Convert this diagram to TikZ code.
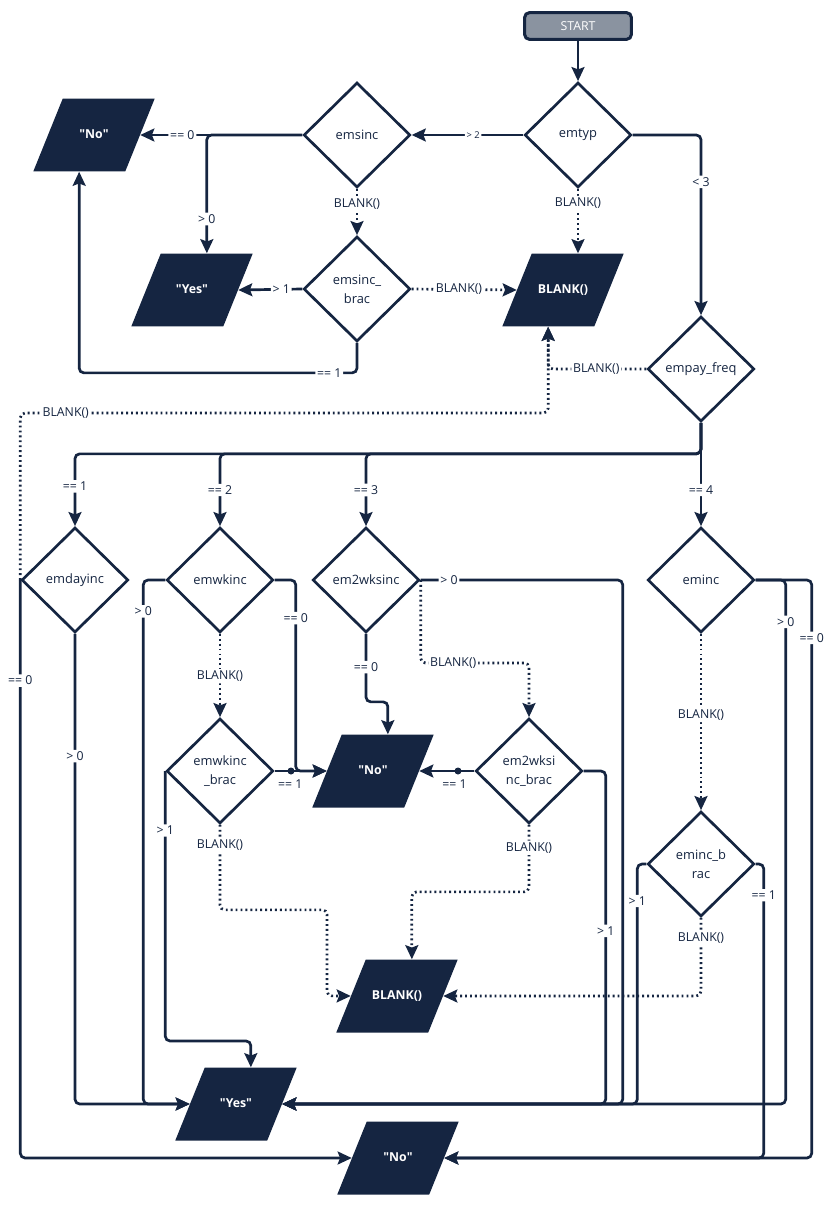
\documentclass[tikz,border=0pt]{standalone}
\usepackage{fontspec}
\setmainfont{Open Sans}
\usetikzlibrary{shapes.geometric}
\usetikzlibrary{arrows.meta}

\definecolor{navy}{HTML}{152541}
\definecolor{startgray}{HTML}{8A93A0}

\begin{document}
\begin{tikzpicture}[x=0.03cm, y=-0.03cm,
  startbox/.style={rectangle, rounded corners=4pt, draw=navy, line width=2.6pt, fill=startgray, text=white,
    minimum width=3.2cm, minimum height=0.8cm, font=\fontsize{10.5}{12}\selectfont},
  decision/.style={diamond, draw=navy, line width=2.3pt, fill=white, text=navy, align=center, inner sep=0pt,
    minimum width=3.2cm, minimum height=3.15cm, font=\fontsize{11}{16}\selectfont},
  io/.style={trapezium, trapezium left angle=68, trapezium right angle=112,
    fill=navy, text=white, minimum width=0pt, minimum height=0pt,
    text width=1.874cm, align=center, text height=8pt, text depth=2.5pt, inner xsep=0pt, inner ysep=25.9pt,
    font=\bfseries\fontsize{10.5}{12}\selectfont},
  flow/.style={draw=navy, line width=2.3pt, rounded corners=4pt, -{Stealth[length=12pt, width=11pt, inset=2pt]}},
  blankflow/.style={flow, dash pattern=on 1.6pt off 2.6pt},
  cond/.style={fill=white, text=navy, inner sep=1.5pt, font=\fontsize{10.5}{12}\selectfont},
  undercond/.style={cond, fill=none, below=5pt}]
\useasboundingbox (0,0) rectangle (827,1207);

% top part
\node[startbox] (start) at (578,26) {START};
\node[decision] (emtyp) at (578,135) {emtyp};
\node[decision] (emsinc) at (357,135) {emsinc};
\node[decision] (emsincbrac) at (357,289) {emsinc\_\\brac};
\node[decision] (empayfreq) at (701,369) {empay\_freq};
\node[io] (no1) at (94,135) {\textquotedbl No\textquotedbl};
\node[io] (yes1) at (192,290) {\textquotedbl Yes\textquotedbl};
\node[io] (blank1) at (563,290) {BLANK()};

% pay frequency branches
\node[decision] (emdayinc) at (75,580) {emdayinc};
\node[decision] (emwkinc) at (220,580) {emwkinc};
\node[decision] (emtwowksinc) at (366,580) {em2wksinc};
\node[decision] (eminc) at (701,580) {eminc};
\node[decision] (emwkincbrac) at (220,771) {emwkinc\\\_brac};
\node[decision] (emtwowksincbrac) at (529,771) {em2wksi\\nc\_brac};
\node[decision] (emincbrac) at (701,864) {eminc\_b\\rac};
\node[io] (no2) at (373,771) {\textquotedbl No\textquotedbl};
\node[io] (blank2) at (397,996) {BLANK()};
\node[io] (yes2) at (236,1104) {\textquotedbl Yes\textquotedbl};
\node[io] (no3) at (398,1158) {\textquotedbl No\textquotedbl};

\draw[flow] (start.south) -- (emtyp.north);
\draw[flow] (emtyp.west) -- node[cond, pos=0.45, font=\fontsize{8}{10}\selectfont] {> 2} (emsinc.east);
\draw[blankflow] (emtyp.south) -- node[cond, pos=0.22] {BLANK()} (emtyp.south |- blank1.top side);
\draw[flow] (emtyp.east) -| node[cond, pos=0.63] {< 3} (empayfreq.north);

\draw[flow] (emsinc.west) -- node[cond, pos=0.74] {== 0} (no1.right side);
\draw[flow] (emsinc.west) -| node[cond, pos=0.855] {> 0} (yes1.top side);
\draw[blankflow] (emsinc.south) -- node[cond, pos=0.33] {BLANK()} (emsincbrac.north);
\draw[flow] (emsincbrac.west) -- node[cond, pos=0.33] {> 1} (yes1.right side);
\draw[blankflow] (emsincbrac.east) -- node[cond, pos=0.45] {BLANK()} (blank1.left side);
\draw[flow] (emsincbrac.south) -- ++(0,30) -| node[cond, pos=0.05] {== 1} (no1.bottom side);

\draw[blankflow] (empayfreq.west) -| node[cond, pos=0.255] {BLANK()} (blank1.bottom side);
\draw[blankflow] (emdayinc.west) -- ++(0,-167) -| node[cond, pos=0.043] {BLANK()} (blank1.bottom side);

\draw[flow] (empayfreq.south) -- ++(0,31) -| node[cond, pos=0.725] {== 1} (emdayinc.north);
\draw[flow] (empayfreq.south) -- ++(0,31) -| node[cond, pos=0.75] {== 2} (emwkinc.north);
\draw[flow] (empayfreq.south) -- ++(0,31) -| node[cond, pos=0.75] {== 3} (emtwowksinc.north);
\draw[flow] (empayfreq.south) -- node[cond, pos=0.65] {== 4} (eminc.north);

% daily
\draw[flow] (emdayinc.south) |- node[cond, pos=0.13] {> 0} (yes2.left side);
\draw[flow] (emdayinc.west) |- node[cond, pos=0.087] {== 0} (no3.left side);

% weekly
\draw[flow] (emwkinc.west) -- ++(-22,0) |- node[cond, pos=0.03] {> 0} (yes2.left side);
\draw[flow] (emwkinc.east) -- ++(21,0) |- node[cond, pos=0.1] {== 0} (no2.left side);
\draw[blankflow] (emwkinc.south) -- node[cond, pos=0.51] {BLANK()} (emwkincbrac.north);
\draw[flow] (emwkincbrac.east) -- node[undercond, pos=0.3] {== 1} (no2.left side);
\fill[navy] (291,771) circle (3.5);
\draw[flow] (emwkincbrac.west) -- node[cond, pos=0.22] {> 1} ++(0,270) -| (yes2.top side);
\draw[blankflow] (emwkincbrac.south) -- node[cond, pos=0.235] {BLANK()} ++(0,85) -| ++(107,86) -- (blank2.left side);

% two weeks
\draw[flow] (emtwowksinc.south) -- node[cond, pos=0.49] {== 0} ++(0,68) -| (no2.top side);
\draw[flow] (emtwowksinc.east) -- node[cond, pos=0.14] {> 0} ++(202,0) |- (yes2.right side);
\draw[blankflow] (emtwowksinc.east) -- ++(0,83) -| node[cond, pos=0.15] {BLANK()} (emtwowksincbrac.north);
\draw[flow] (emtwowksincbrac.west) -- node[undercond, pos=0.36] {== 1} (no2.right side);
\fill[navy] (458,771) circle (3.5);
\draw[flow] (emtwowksincbrac.east) -- ++(22,0) |- node[cond, pos=0.24] {> 1} (yes2.right side);
\draw[blankflow] (emtwowksincbrac.south) -- node[cond, pos=0.34] {BLANK()} ++(0,67) -| (blank2.top side);

% monthly
\draw[flow] (eminc.east) -- ++(30,0) |- node[cond, pos=0.04] {> 0} (yes2.right side);
\draw[flow] (eminc.east) -- ++(56,0) |- node[cond, pos=0.05] {== 0} (no3.right side);
\draw[blankflow] (eminc.south) -- node[cond, pos=0.46] {BLANK()} (emincbrac.north);
\draw[flow] (emincbrac.west) -- ++(-9,0) |- node[cond, pos=0.077] {> 1} (yes2.right side);
\draw[flow] (emincbrac.east) -- ++(8,0) |- node[cond, pos=0.053] {== 1} (no3.right side);
\draw[blankflow] (emincbrac.south) |- node[cond, pos=0.13] {BLANK()} (blank2.right side);
\end{tikzpicture}
\end{document}
